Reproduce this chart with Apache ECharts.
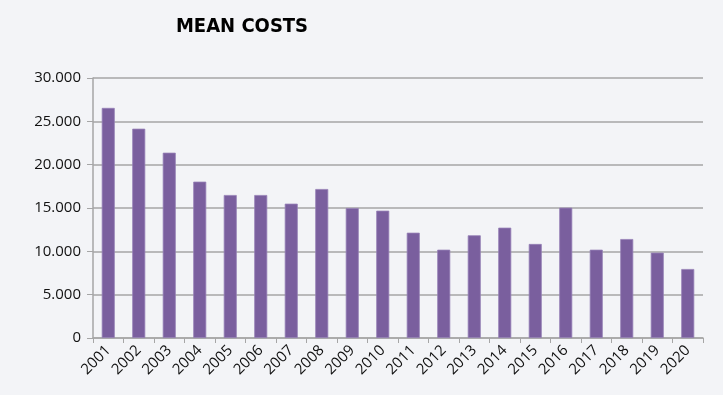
<!DOCTYPE html>
<html>
<head>
<meta charset="utf-8">
<script src="https://cdn.jsdelivr.net/npm/echarts@6/dist/echarts.min.js"></script>
<style>
html,body{margin:0;padding:0;background:#f3f4f7;}
#chart{width:723px;height:395px;}
</style>
</head>
<body>
<div id="chart"></div>
<script>
const categories = ['2001','2002','2003','2004','2005','2006','2007','2008','2009','2010','2011','2012','2013','2014','2015','2016','2017','2018','2019','2020'];
const meanCosts = [26550,24150,21380,18040,16500,16500,15500,17190,15000,14690,12150,10190,11850,12730,10850,15040,10190,11420,9850,7960];
const yTicks = [0,5000,10000,15000,20000,25000,30000];

const chart = echarts.init(document.getElementById('chart'), null, {renderer:'canvas'});
chart.setOption({
  backgroundColor:'#f3f4f7',
  animation:false,
  title:{
    text:'MEAN COSTS',
    left:237, top:12, textAlign:'center',
    textStyle:{fontFamily:'DejaVu Sans Condensed, DejaVu Sans, sans-serif',fontWeight:'bold',fontSize:20,color:'#000'}
  },
  grid:{left:93,right:20,top:78,bottom:57,containLabel:false},
  xAxis:{
    type:'category',
    data:categories,
    axisLine:{lineStyle:{color:'#a6a6a6',width:1.5}},
    axisTick:{show:true,length:5,alignWithLabel:false,lineStyle:{color:'#a6a6a6'}},
    axisLabel:{rotate:45,interval:0,margin:10,fontSize:15,color:'#111',fontFamily:'Open Sans, Liberation Sans, sans-serif'}
  },
  yAxis:{
    type:'value',
    min:yTicks[0], max:yTicks[yTicks.length-1], interval:5000,
    axisLine:{show:true,lineStyle:{color:'#a6a6a6',width:1.5}},
    axisTick:{show:true,length:6,lineStyle:{color:'#a6a6a6'}},
    splitLine:{lineStyle:{color:'#a6a6a6',width:1.5}},
    axisLabel:{
      margin:12,fontSize:15,color:'#111',fontFamily:'Open Sans, Liberation Sans, sans-serif',
      formatter:function(v){ if(v===0) return '0'; return (v/1000).toFixed(0)+'.000'; }
    }
  },
  series:[{
    type:'bar',
    data:meanCosts,
    barWidth:13,
    itemStyle:{color:'#7a5f9e',borderColor:'#9680b6',borderWidth:0.8}
  }]
});
</script>
</body>
</html>
